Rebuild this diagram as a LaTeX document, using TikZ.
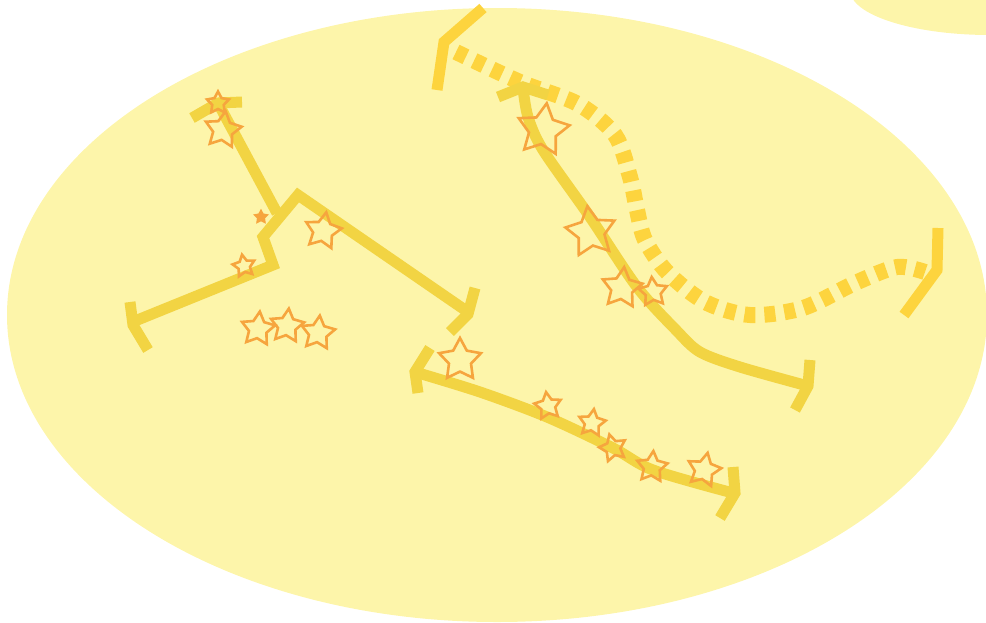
\documentclass[tikz,border=0pt]{standalone}
\usepackage{tikz}
\usetikzlibrary{shapes.geometric}
\usepackage{xcolor}
\definecolor{skyfill}{HTML}{FDF5AA}
\definecolor{linegold}{HTML}{F2D443}
\definecolor{dashgold}{HTML}{FDD43E}
\definecolor{starorange}{HTML}{F6A53E}

\begin{document}
\begin{tikzpicture}[x=1pt,y=-1pt,
  cline/.style={linegold,line width=11pt,line join=miter},
  dline/.style={dashgold,line width=16pt,dash pattern=on 11pt off 9pt},
  bline/.style={dashgold,line width=11pt,line join=miter},
  starn/.style={draw=starorange,line width=2.6pt,shape=star,star points=5,
    star point ratio=1.9,inner sep=0pt,minimum size=#1}]
  \path[use as bounding box] (0,0) rectangle (986,622);
  % cielo
  \fill[skyfill] (497,315) ellipse [x radius=490,y radius=307];
  \fill[skyfill] (990,-10) ellipse [x radius=140,y radius=45];

  % constelacion izquierda
  \draw[cline] (192,118) -- (218,103) -- (242,102);
  \draw[cline] (218,103) -- (277,213);
  \draw[cline] (130,323) -- (273,265) -- (263,237) -- (298,195) -- (468,312);
  \draw[cline] (130,302) -- (133,325) -- (148,350);
  \draw[cline] (475,288) -- (468,314) -- (450,332);
  \node[starn=23pt] (l1) at (218,103) {};
  \node[starn=38pt,rotate=-8] (l2) at (223,130) {};
  \node[starn=11pt,fill=starorange] (l3) at (261,217) {};
  \node[starn=23pt,rotate=10] (l4) at (244,266) {};
  \node[starn=38pt,rotate=-10] (l5) at (323,231) {};
  \foreach \x/\y [count=\i] in {258/329,287/326,318/333}
    \node[starn=35pt,rotate=-6] (g\i) at (\x,\y) {};

  % constelacion de abajo
  \draw[cline] plot[smooth] coordinates {(415,372) (480,392) (547,417) (613,448) (653,470) (733,493)};
  \draw[cline] (430,348) -- (415,372) -- (418,393);
  \draw[cline] (733,467) -- (735,493) -- (720,518);
  \node[starn=44pt] (b1) at (460,360) {};
  \node[starn=28pt,rotate=8] (b2) at (548,406) {};
  \node[starn=28pt,rotate=-8] (b3) at (592,423) {};
  \node[starn=28pt,rotate=15] (b4) at (613,448) {};
  \node[starn=32pt,rotate=-5] (b5) at (652,467) {};
  \node[starn=35pt,rotate=-12] (b6) at (704,470) {};

  % camino punteado
  \draw[dline] plot[smooth] coordinates {(456,52) (520,82) (578,104) (615,135) (630,177) (637,210) (645,240) (667,272) (705,302) (750,315) (803,308) (855,283) (897,267) (925,272)};
  \draw[bline] (437,90) -- (444,42) -- (483,8);
  \draw[bline] (938,228) -- (937,270) -- (904,315);

  % constelacion derecha
  \draw[cline] plot[smooth] coordinates {(523,88) (528,117) (543,150) (590,217) (637,287) (676,330) (700,352) (740,367) (808,386)};
  \draw[cline] (498,97) -- (523,87) -- (548,95);
  \draw[cline] (810,360) -- (808,386) -- (795,410);
  \node[starn=54pt,rotate=-8] (r1) at (543,130) {};
  \node[starn=52pt,rotate=8] (r2) at (591,232) {};
  \node[starn=42pt,rotate=-6] (r3) at (622,288) {};
  \node[starn=30pt,rotate=5] (r4) at (653,292) {};
\end{tikzpicture}
\end{document}
